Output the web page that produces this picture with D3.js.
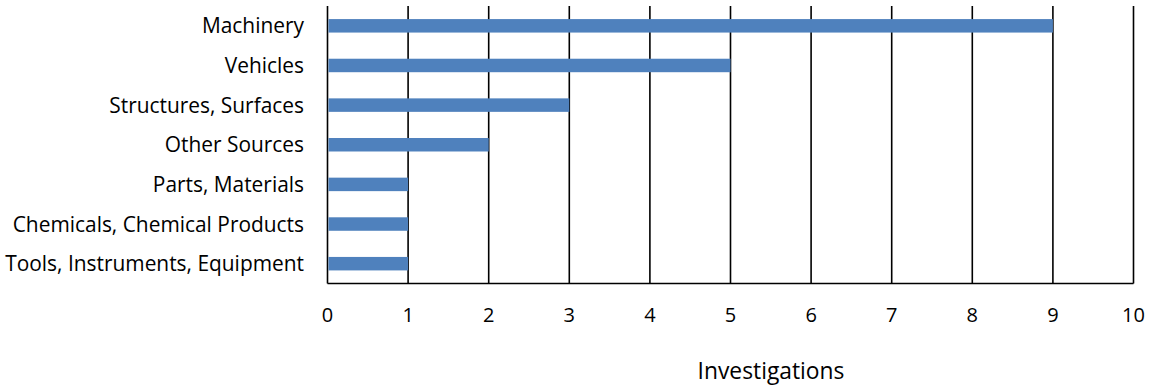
<!DOCTYPE html>
<html><head><meta charset="utf-8">
<script src="https://cdn.jsdelivr.net/npm/d3@7"></script>
<style>body{margin:0;background:#fff;} text{font-family:"Open Sans", Lato, sans-serif;fill:#000;}</style>
</head><body>
<svg id="c" width="1152" height="389"></svg>
<script>
const categories = ["Machinery","Vehicles","Structures, Surfaces","Other Sources","Parts, Materials","Chemicals, Chemical Products","Tools, Instruments, Equipment"];
const values = [9,5,3,2,1,1,1];
const xTicks = [0,1,2,3,4,5,6,7,8,9,10];
const axisTitle = "Investigations";

(function(){
const svg = d3.select("#c");
const pLeft = 327.5, pRight = 1133.5, pTop = 6, pBottom = 283.5;
const x = d3.scaleLinear().domain([0,10]).range([pLeft,pRight]);
const y = d3.scaleBand().domain(categories).range([pTop,pBottom]).paddingInner(0.66).paddingOuter(0.33);

svg.append("g").selectAll("line").data(xTicks).join("line")
  .attr("x1",d=>x(d)).attr("x2",d=>x(d)).attr("y1",pTop).attr("y2",pBottom)
  .attr("stroke","#000").attr("stroke-width",1.6);
svg.append("line").attr("x1",pLeft).attr("x2",pRight).attr("y1",pBottom).attr("y2",pBottom)
  .attr("stroke","#000").attr("stroke-width",1.6);

svg.append("g").selectAll("rect").data(values).join("rect")
  .attr("x",x(0)+1).attr("y",(d,i)=>y(categories[i]))
  .attr("width",d=>x(d)-x(0)-1).attr("height",y.bandwidth())
  .attr("fill","#4f81bd");

svg.append("g").selectAll("text").data(categories).join("text")
  .attr("x",304).attr("y",d=>y(d)+y.bandwidth()/2).attr("dy","0.36em")
  .attr("text-anchor","end").style("font-size","20.9px").text(d=>d);

svg.append("g").selectAll("text").data(xTicks).join("text")
  .attr("x",d=>x(d)).attr("y",322).attr("text-anchor","middle").style("font-size","20px").text(d=>d);

svg.append("text").attr("x",771).attr("y",379).attr("text-anchor","middle").style("font-size","22.8px").text(axisTitle);
})();
</script>
</body></html>
